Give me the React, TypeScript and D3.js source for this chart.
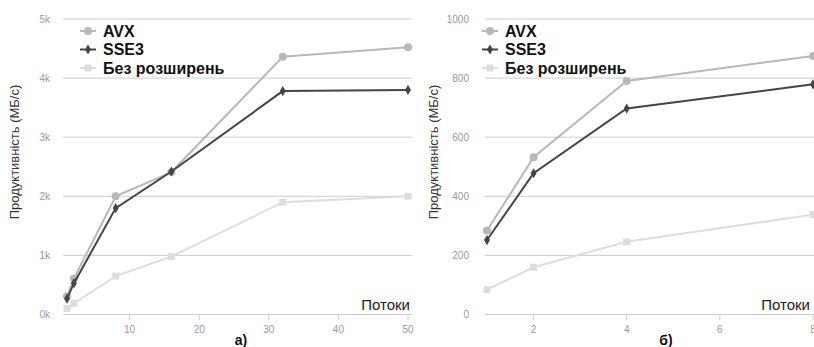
import { useEffect, useRef } from "react";
import * as d3 from "d3";

// series names
const seriesNames = ["AVX", "SSE3", "Без розширень"];

// chart a) – threads 1..50
const threadsA = [1, 2, 8, 16, 32, 50];
const avxA = [310, 610, 2000, 2410, 4360, 4520];
const sse3A = [270, 530, 1800, 2420, 3780, 3800];
const plainA = [100, 190, 650, 980, 1900, 2000];
const yTicksA = [0, 1000, 2000, 3000, 4000, 5000];
const xTicksA = [10, 20, 30, 40, 50];

// chart b) – threads 1..8
const threadsB = [1, 2, 4, 8];
const avxB = [284, 532, 790, 875];
const sse3B = [252, 478, 697, 779];
const plainB = [84, 160, 246, 338];
const yTicksB = [0, 200, 400, 600, 800, 1000];
const xTicksB = [2, 4, 6, 8];

const colors = ["#b8b8b8", "#444444", "#dddddd"];
const yTitle = "Продуктивність (МБ/с)";
const xTitle = "Потоки";

export default function App() {
    const svgRef = useRef<SVGSVGElement>(null);

    useEffect(() => {
        const svg = d3.select(svgRef.current);
        svg.selectAll("*").remove();

        const panels = [
            {
                xs: threadsA, series: [avxA, sse3A, plainA], yTicks: yTicksA, xTicks: xTicksA,
                xDomain: [1, 50], xRange: [67, 408], yMax: 5000, gridX: [63, 412],
                fmtY: (d: number) => `${d / 1000}k`, labelX: 50, titleX: 19,
                legendX: 80, xTitleX: 410, caption: "а)", captionX: 241,
            },
            {
                xs: threadsB, series: [avxB, sse3B, plainB], yTicks: yTicksB, xTicks: xTicksB,
                xDomain: [1, 8], xRange: [487, 813], yMax: 1000, gridX: [485, 814],
                fmtY: (d: number) => `${d}`, labelX: 469, titleX: 438,
                legendX: 482, xTitleX: 810, caption: "б)", captionX: 666,
            },
        ];

        panels.forEach(p => {
            const x = d3.scaleLinear().domain(p.xDomain).range(p.xRange);
            const y = d3.scaleLinear().domain([0, p.yMax]).range([314.5, 19]);
            const g = svg.append("g");

            // gridlines + y labels
            g.selectAll(".grid")
                .data(p.yTicks)
                .join("line")
                .attr("x1", p.gridX[0])
                .attr("x2", p.gridX[1])
                .attr("y1", d => y(d))
                .attr("y2", d => y(d))
                .attr("stroke", "#cccccc")
                .attr("stroke-width", 1);

            g.selectAll(".ylab")
                .data(p.yTicks)
                .join("text")
                .attr("x", p.labelX)
                .attr("y", d => y(d) + 3.5)
                .attr("text-anchor", "end")
                .attr("font-size", "10px")
                .attr("fill", "#999")
                .text(d => p.fmtY(d));

            // x ticks
            g.selectAll(".xtick")
                .data(p.xTicks)
                .join("line")
                .attr("x1", d => x(d))
                .attr("x2", d => x(d))
                .attr("y1", 314.5)
                .attr("y2", 320)
                .attr("stroke", "#cccccc");

            g.selectAll(".xlab")
                .data(p.xTicks)
                .join("text")
                .attr("x", d => x(d))
                .attr("y", 333)
                .attr("text-anchor", "middle")
                .attr("font-size", "10px")
                .attr("fill", "#999")
                .text(d => d);

            // axis titles
            g.append("text")
                .attr("transform", `translate(${p.titleX},152) rotate(-90)`)
                .attr("text-anchor", "middle")
                .attr("font-size", "13px")
                .attr("fill", "#333")
                .text(yTitle);

            g.append("text")
                .attr("x", p.xTitleX)
                .attr("y", 310)
                .attr("text-anchor", "end")
                .attr("font-size", "15px")
                .attr("fill", "#222")
                .text(xTitle);

            g.append("text")
                .attr("x", p.captionX)
                .attr("y", 345)
                .attr("text-anchor", "middle")
                .attr("font-size", "14px")
                .attr("font-weight", "bold")
                .attr("fill", "#111")
                .text(p.caption);

            const line = d3.line<number>()
                .x((_, i) => x(p.xs[i]))
                .y(d => y(d));

            // draw lightest first so dark lines stay on top
            [2, 0, 1].forEach(si => {
                const vals = p.series[si];
                g.append("path")
                    .attr("d", line(vals))
                    .attr("fill", "none")
                    .attr("stroke", colors[si])
                    .attr("stroke-width", 2);
                drawMarkers(g, vals.map((v, i) => [x(p.xs[i]), y(v)]), si);
            });

            // legend
            seriesNames.forEach((name, i) => {
                const ly = 31 + i * 18.5;
                const lg = g.append("g");
                lg.append("line")
                    .attr("x1", p.legendX)
                    .attr("x2", p.legendX + 16)
                    .attr("y1", ly)
                    .attr("y2", ly)
                    .attr("stroke", colors[i])
                    .attr("stroke-width", 2);
                drawMarkers(lg, [[p.legendX + 8, ly]], i);
                lg.append("text")
                    .attr("x", p.legendX + 23)
                    .attr("y", ly + 5.5)
                    .attr("font-size", "16px")
                    .attr("font-weight", "bold")
                    .attr("fill", "#111")
                    .text(name);
            });
        });

        function drawMarkers(g: any, pts: number[][], si: number) {
            pts.forEach(([px, py]) => {
                if (si === 0) {
                    g.append("circle").attr("cx", px).attr("cy", py).attr("r", 4).attr("fill", colors[0]);
                } else if (si === 1) {
                    g.append("path")
                        .attr("d", d3.symbol(d3.symbolDiamond, 30)())
                        .attr("transform", `translate(${px},${py})`)
                        .attr("fill", colors[1]);
                } else {
                    g.append("rect")
                        .attr("x", px - 3.5).attr("y", py - 3.5)
                        .attr("width", 7).attr("height", 7)
                        .attr("fill", colors[2]);
                }
            });
        }
    }, []);

    return (
        <svg
            ref={svgRef}
            width={814}
            height={347}
            style={{ position: "absolute", left: 0, top: 0, background: "#fff", fontFamily: "'Liberation Sans', Arial, sans-serif" }}
        />
    );
}
